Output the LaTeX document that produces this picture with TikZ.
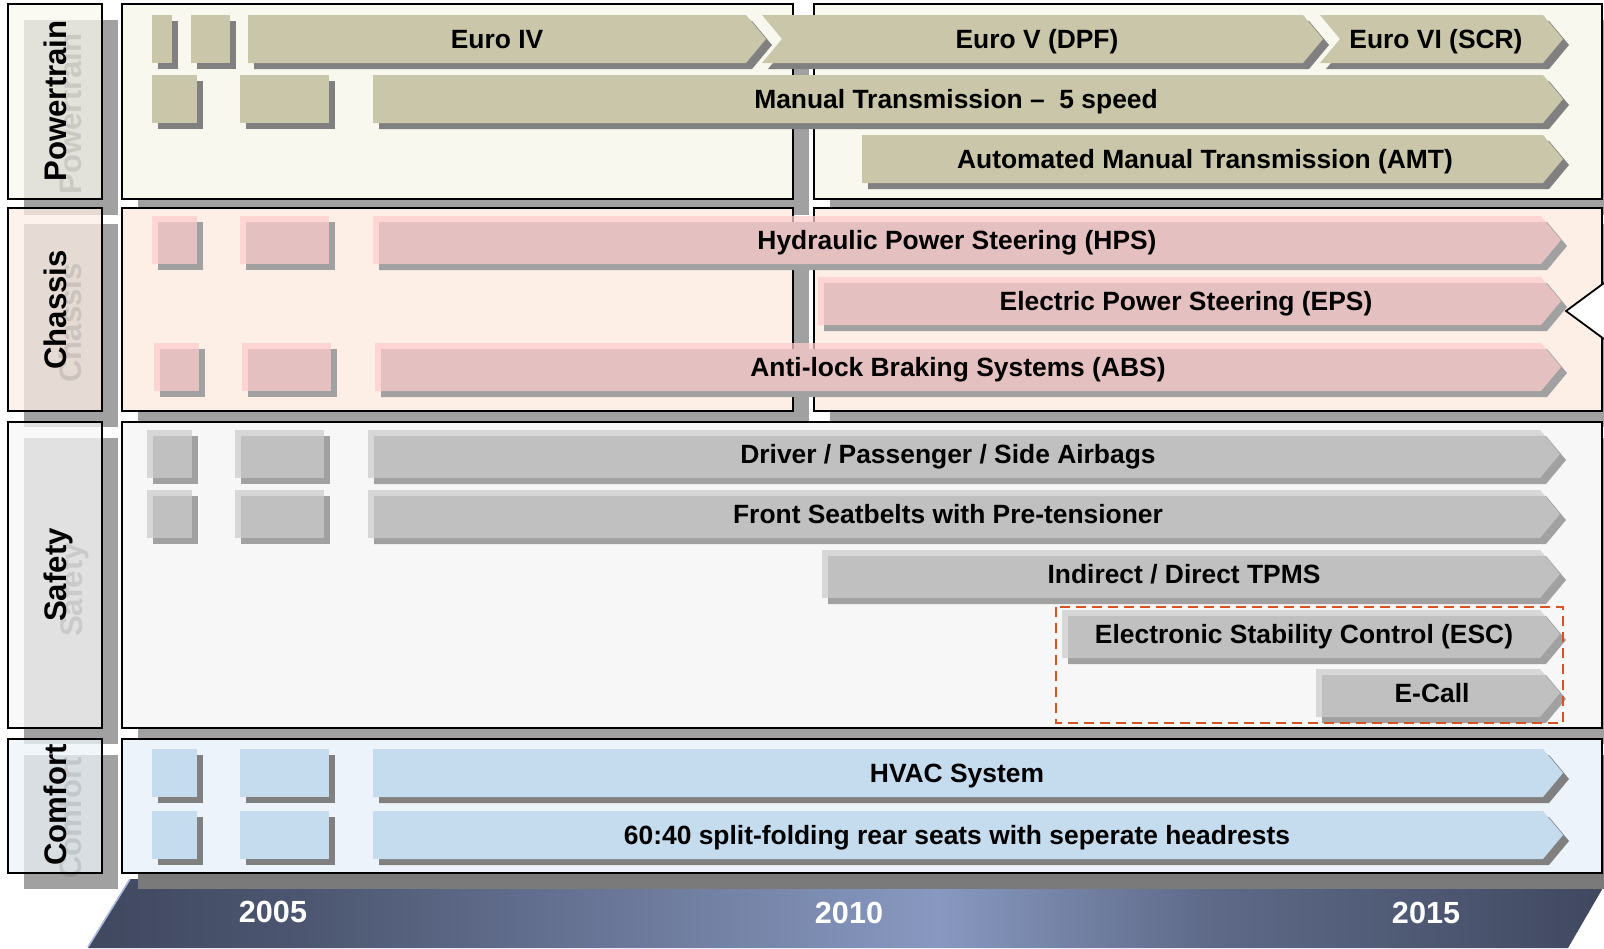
\documentclass[tikz,border=0pt]{standalone}
\usepackage{fontspec}
\setmainfont{Liberation Sans}
\definecolor{ptback}{HTML}{F8F8EE}
\definecolor{chback}{HTML}{FDEEE6}
\definecolor{sfback}{HTML}{F7F7F7}
\definecolor{cfback}{HTML}{ECF3FA}
\definecolor{ptfill}{HTML}{C9C6A9}
\definecolor{chfill}{HTML}{FFCCCC}
\definecolor{sffill}{HTML}{CCCCCC}
\definecolor{cffill}{HTML}{C5DBEE}
\definecolor{tldark}{HTML}{3F485F}
\definecolor{tlmid}{HTML}{4C5670}
\definecolor{tllight}{HTML}{8898C0}
\definecolor{tledge}{HTML}{A9B9DD}
\definecolor{escred}{HTML}{D9531E}
\pgfdeclarehorizontalshading{tlshade}{100bp}{color(0bp)=(tldark); color(25bp)=(tldark);
  color(32bp)=(tlmid); color(53bp)=(tllight); color(62bp)=(tlmid!70!tllight);
  color(70bp)=(tlmid); color(75bp)=(tldark); color(100bp)=(tldark)}
% bar outlines: left x, body end x, top y
\newcommand{\chev}[3]{(#1,#3) -- (#2,#3) -- (#2+20,#3+24) -- (#2,#3+48) -- (#1,#3+48) -- cycle}
\newcommand{\nchev}[3]{(#1,#3) -- (#2,#3) -- (#2+20,#3+24) -- (#2,#3+48) -- (#1,#3+48) -- (#1+20,#3+24) -- cycle}
\newcommand{\blk}[3]{(#1,#3) rectangle (#2,#3+48)}

\begin{document}
\begin{tikzpicture}[x=0.5pt, y=-0.5pt,
   shd/.style 2 args={preaction={fill=#1, fill opacity=1, draw=none, transform canvas={shift={(#2,#2)}}}},
   panel/.style={draw=black, line width=0.9pt},
   lbl/.style={draw=black, line width=0.9pt, fill opacity=0.75, shd={black!37}{16}},
   lbltext/.style={rotate=90, inner sep=0pt, text height=11.2pt, text depth=0pt, font=\fontsize{15.6}{18}\selectfont\bfseries},
   ghost/.style={lbltext, text opacity=0.1},
   ptbar/.style={fill=ptfill, shd={black!50}{6}},
   chbar/.style={fill=chfill, fill opacity=0.73, shd={black!37}{6}},
   sfbar/.style={fill=sffill, fill opacity=0.72, shd={black!37}{6}},
   cfbar/.style={fill=cffill, shd={black!50}{6}},
   bartext/.style={inner sep=0pt, text height=9.4pt, text depth=0pt, font=\fontsize{13.2}{15}\selectfont\bfseries},
   year/.style={text=white, font=\fontsize{15.3}{18}\selectfont\bfseries},
   esc/.style={draw=escred, line width=0.8pt, dash pattern=on 5pt off 3pt}
]
\useasboundingbox (0,0) rectangle (1604,948);

% time axis
\shade[shading=tlshade] (130,879) -- (1604,879) -- (1604,886) -- (1568,948) -- (88,948) -- cycle;
\draw[tledge, line width=0.8pt] (88,947) -- (130,879);

% panels
\draw[panel, fill=ptback, shd={black!37}{16}] (122,4) rectangle (793,199);
\draw[panel, fill=ptback, shd={black!37}{16}] (814,4) rectangle (1602,199);
\draw[panel, fill=chback, shd={black!37}{16}] (122,208) rectangle (793,411);
\draw[panel, fill=chback, shd={black!37}{16}] (814,208) rectangle (1602,411);
\draw[panel, fill=sfback, shd={black!37}{16}] (122,422) rectangle (1602,728);
\draw[panel, fill=cfback, shd={black!52}{16}] (122,739) rectangle (1602,873);
\fill[white] (1604,283) -- (1566,311) -- (1604,339) -- cycle;
\draw[line width=0.9pt] (1604,283) -- (1566,311) -- (1604,339);

% row labels
\draw[lbl, fill=ptback] (8,4) rectangle (102,199);
\draw[lbl, fill=chback] (8,208) rectangle (102,411);
\draw[lbl, fill=sfback] (8,422) rectangle (102,728);
\draw[lbl, fill=cfback] (8,739) rectangle (102,873);
\node[ghost] (ptghost) at (70,114) {Powertrain};
\node[ghost] (chghost) at (70,323) {Chassis};
\node[ghost] (sfghost) at (71,590) {Safety};
\node[ghost] (cfghost) at (70,818) {Comfort};
\node[lbltext] (ptlbl) at (55,101) {Powertrain};
\node[lbltext] (chlbl) at (55,310) {Chassis};
\node[lbltext] (sflbl) at (55,575) {Safety};
\node[lbltext] (cflbl) at (55,805) {Comfort};

% powertrain
\fill[ptbar] \blk{152}{172}{15}; \fill[ptbar] \blk{191}{230}{15};
\fill[ptbar] \chev{248}{746}{15};
\fill[ptbar] \nchev{762}{1303}{15};
\fill[ptbar] \nchev{1320}{1543}{15};
\fill[ptbar] \blk{152}{197}{75}; \fill[ptbar] \blk{240}{329}{75};
\fill[ptbar] \chev{373}{1543}{75};
\fill[ptbar] \chev{862}{1543}{135};
\node[bartext] (euro4) at (497,39) {Euro IV};
\node[bartext] (euro5) at (1037,39) {Euro V (DPF)};
\node[bartext] (euro6) at (1436,39) {Euro VI (SCR)};
\node[bartext] (mt) at (956,99) {Manual Transmission \textendash\ \ 5 speed};
\node[bartext] (amt) at (1205,159) {Automated Manual Transmission (AMT)};

% chassis
\fill[chbar] \blk{152}{197}{216}; \fill[chbar] \blk{240}{329}{216};
\fill[chbar] \chev{373}{1541}{216};
\fill[chbar] \chev{818}{1541}{277};
\fill[chbar] \blk{154}{199}{343}; \fill[chbar] \blk{242}{331}{343};
\fill[chbar] \chev{375}{1541}{343};
\node[bartext] (hps) at (957,240) {Hydraulic Power Steering (HPS)};
\node[bartext] (eps) at (1186,301) {Electric Power Steering (EPS)};
\node[bartext] (abs) at (958,367) {Anti-lock Braking Systems (ABS)};

% safety
\fill[sfbar] \blk{147}{192}{430}; \fill[sfbar] \blk{235}{324}{430};
\fill[sfbar] \chev{368}{1540}{430};
\fill[sfbar] \blk{147}{192}{490}; \fill[sfbar] \blk{235}{324}{490};
\fill[sfbar] \chev{368}{1540}{490};
\fill[sfbar] \chev{822}{1540}{550};
\fill[sfbar] \chev{1062}{1540}{610};
\fill[sfbar] \chev{1316}{1540}{669};
\node[bartext] (airbag) at (948,454) {Driver / Passenger / Side Airbags};
\node[bartext] (belt) at (948,514) {Front Seatbelts with Pre-tensioner};
\node[bartext] (tpms) at (1184,574) {Indirect / Direct TPMS};
\node[bartext] (escl) at (1304,634) {Electronic Stability Control (ESC)};
\node[bartext] (ecall) at (1432,693) {E-Call};
\draw[esc] (1056,607) rectangle (1563,723);

% comfort
\fill[cfbar] \blk{152}{197}{749}; \fill[cfbar] \blk{240}{329}{749};
\fill[cfbar] \chev{373}{1543}{749};
\fill[cfbar] \blk{152}{197}{811}; \fill[cfbar] \blk{240}{329}{811};
\fill[cfbar] \chev{373}{1543}{811};
\node[bartext] (hvac) at (957,773) {HVAC System};
\node[bartext] (seats) at (957,835) {60:40 split-folding rear seats with seperate headrests};

% years
\node[year] (y2005) at (273,912) {2005};
\node[year] (y2010) at (849,913) {2010};
\node[year] (y2015) at (1426,913) {2015};
\end{tikzpicture}
\end{document}
